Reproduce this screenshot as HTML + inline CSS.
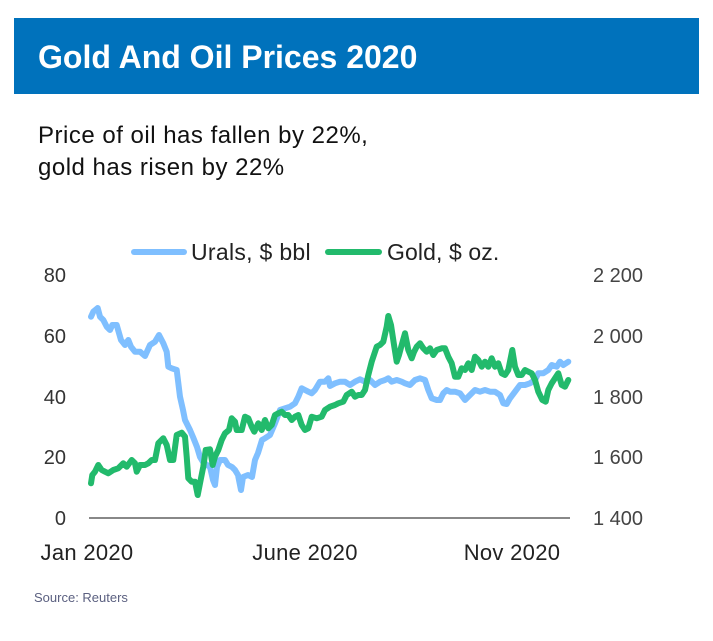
<!DOCTYPE html>
<html><head><meta charset="utf-8"><style>
html,body{margin:0;padding:0;background:#fff;}
body{width:713px;height:641px;overflow:hidden;position:relative;font-family:"Liberation Sans",sans-serif;}
</style></head><body>
<svg width="713" height="641" viewBox="0 0 713 641" xmlns="http://www.w3.org/2000/svg" style="position:absolute;left:0;top:0">
<rect x="14" y="18" width="685" height="76" fill="#0072bc"/>
<text x="38" y="68" font-family="Liberation Sans, sans-serif" font-weight="bold" font-size="32" fill="#fff">Gold And Oil Prices 2020</text>
<text x="38" y="143" font-family="Liberation Sans, sans-serif" font-size="24" letter-spacing="0.5" fill="#111">Price of oil has fallen by 22%,</text>
<text x="38" y="175" font-family="Liberation Sans, sans-serif" font-size="24" letter-spacing="0.5" fill="#111">gold has risen by 22%</text>

<!-- legend -->
<line x1="134" y1="252" x2="184" y2="252" stroke="#7fbfff" stroke-width="6" stroke-linecap="round"/>
<text x="191" y="260" font-family="Liberation Sans, sans-serif" font-size="23" letter-spacing="0.3" fill="#222">Urals, $ bbl</text>
<line x1="328" y1="252" x2="379" y2="252" stroke="#22ba6c" stroke-width="6" stroke-linecap="round"/>
<text x="387" y="260" font-family="Liberation Sans, sans-serif" font-size="23" letter-spacing="0.1" fill="#222">Gold, $ oz.</text>

<!-- y axis left -->
<g font-family="Liberation Sans, sans-serif" font-size="20" fill="#333" text-anchor="end">
<text x="66" y="282">80</text>
<text x="66" y="343">60</text>
<text x="66" y="404">40</text>
<text x="66" y="464">20</text>
<text x="66" y="525">0</text>
</g>
<g font-family="Liberation Sans, sans-serif" font-size="20" fill="#444">
<text x="593" y="282">2 200</text>
<text x="593" y="343">2 000</text>
<text x="593" y="404">1 800</text>
<text x="593" y="464">1 600</text>
<text x="593" y="525">1 400</text>
</g>
<line x1="89" y1="518" x2="570" y2="518" stroke="#888" stroke-width="2"/>

<g font-family="Liberation Sans, sans-serif" font-size="22" fill="#222" text-anchor="middle" letter-spacing="0.3">
<text x="87" y="560">Jan 2020</text>
<text x="305" y="560">June 2020</text>
<text x="512" y="560">Nov 2020</text>
</g>
<text x="34" y="602" font-family="Liberation Sans, sans-serif" font-size="13" fill="#5b6080">Source: Reuters</text>

<!-- Urals -->
<polyline fill="none" stroke="#7fbfff" stroke-width="6" stroke-linejoin="round" stroke-linecap="round" points="
91,316.7 93.3,311.7 97.7,308 100,316.7 103.3,320 106.7,326.7 110,330 112.3,325 116.7,325 121,340 125,345 128.3,340 131,346.7 135,351.7 140,351.7 145,356 150,345 155,341.7 159,335 163.3,343.3 166.7,351.7 168.3,366.7 171.7,368.3 176.7,370 180,396.7 183,410 185,420 190,430 193,437 197,447 200,457 203,462 207,465 210,467 213,480 215,485 217,467 220,460 225,460 228,465 232,467 235,470 238,475 241,490 243,477 248,475 252,477 255,460 258,453 262,440 265,438.3 270,435 275,423.3 280,410 285,408.3 290,406.7 295,403.3 298.3,396.7 301.7,388.3 305,390 308.3,391.7 311.7,393.3 315,390 320,381.7 325,381.7 328.3,378.3 330,386 335,383.3 340,381.7 345,381.7 350,385 355,381.7 360,379.3 365,381.7 370,380 375,385 380,381.7 385,380 388.3,378.3 391.7,381.7 396.7,380 401.7,381.7 405,383.3 410,385 415,380 420,378.3 425,380 428.3,390 431.7,398.3 436.7,400 440,400 443.3,393.3 446.7,390 450,391.7 455,391.7 460,393.3 465,400 470,395 475,390 480,391.7 485,390 490,391.7 495,391.7 500,395 503.3,403.3 506.7,404 510,398.3 515,391.7 520,385 525,385 530,383.3 535,380 538.3,373.3 543.3,373.3 548.3,370 551.7,365 556.7,366.7 560,361.7 563.3,365 568.3,361.7"/>

<!-- Gold -->
<polyline fill="none" stroke="#22ba6c" stroke-width="6" stroke-linejoin="round" stroke-linecap="round" points="
91,483.3 92.3,475 95,471.7 98.3,465 101.7,470 105,471.7 108.3,473.3 113.3,470 118.3,468.3 123.3,463.3 126.7,466.7 131.7,460 135,463.3 136.7,471.7 140,465 145,465 148.3,463.3 151.7,460 155,460 158.3,443.3 163.3,438.3 166.7,445 170,460 173.3,460 176.7,435 181.7,432.7 185,436.7 186.7,456.7 188.3,478.3 191.7,481.7 195,481.7 197.7,495 200,483.3 203.3,466.7 205.7,450 210,449.3 212.7,465 215,456.7 218.3,450 221.7,440 225,433.3 229,430 231.7,418.3 235,421.7 236.7,430 241.7,430 245,416.7 248.3,418.3 251.7,426.7 254.3,431.7 258.3,423.3 261.7,430 265,420 268.3,428.3 271.7,425 275,415 278.3,413.3 281.7,411.7 285,415 288.3,415 291.7,420 295,416.7 298.3,415 301.7,425 305,430 308.3,428.3 311.7,416.7 316.7,418.3 321.7,416.7 325,410 330,406.7 335,405 338.3,403.3 343.3,401.7 346.7,395 351.7,391.7 355,396.7 358.3,395 361.7,395 365,390 368.3,375 371.7,361.7 376.7,346.7 380,345 383.3,341.7 386.7,326.7 388.3,316 391,325 394.3,346.7 396.7,361.7 399,355 401.7,345 405,333.3 408.3,350 411.7,358.3 414,352 416.7,346.7 420,343.3 423.3,348.3 426.7,351.7 430,348.3 433.3,355 436.7,350 441.7,348.3 445,348.3 448.3,356.7 451.7,363.3 455,376.7 458.3,376.7 461.7,368.3 465,370 468.3,363.3 471.7,370 475,356.7 478.3,360 481.7,366.7 485,361.7 488.3,366.7 491.7,358.3 495,366.7 498.3,363.3 501.7,373.3 505,375 508.3,370 512.3,350 515,366.7 518.3,375 521.7,375 525,370 528.3,371.7 531.7,373.3 535,380 538.3,391.7 542.3,400 545.7,401.7 548.3,390 551.7,383.3 555,378.3 558.3,373.3 561.7,385 565,386.7 568.3,380"/>
</svg>
</body></html>
